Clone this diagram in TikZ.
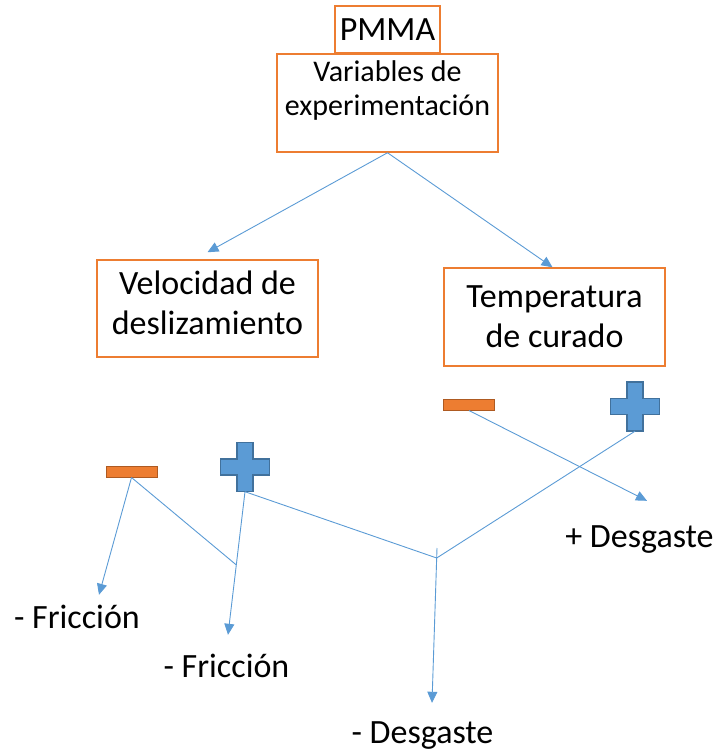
\documentclass[tikz,border=0pt]{standalone}
\usepackage{fontspec}
\setmainfont{Carlito}
\usetikzlibrary{positioning, arrows.meta, calc}
\definecolor{lineblue}{RGB}{91,155,213}
\definecolor{boxorange}{RGB}{237,125,49}
\definecolor{darkorange}{RGB}{174,90,33}
\definecolor{darkblue}{RGB}{65,113,156}

\begin{document}
\begin{tikzpicture}[x=1pt, y=-1pt,
  box/.style={draw=boxorange, line width=1.5pt, rectangle, align=center, minimum width=221pt, font=\fontsize{34}{40}\selectfont},
  lbl/.style={inner sep=0pt, text height=22pt, text depth=7pt, font=\fontsize{34}{40}\selectfont},
  link/.style={draw=lineblue, line width=0.9pt},
  arr/.style={link, -{Triangle[length=11pt, width=10pt]}},
  minus/.style={draw=darkorange, fill=boxorange, line width=1pt, minimum width=51pt, minimum height=11pt, inner sep=0pt},
  plussign/.style={minimum width=49pt, minimum height=49pt, inner sep=0pt},
  plusfill/.style={draw=darkblue, fill=lineblue, line width=1.5pt}]
\useasboundingbox (0,0) rectangle (719,752);

% boxes
\node[box, minimum width=105pt, minimum height=47pt] (pmma) at (387.5,29.5) {PMMA};
\node[box, minimum height=98pt] (vars) at (387.5,103) {};
\node[inner sep=0pt, align=center, font=\fontsize{30}{34}\selectfont, below=7pt of vars.north] (varstxt) {Variables de\\experimentación};
\node[box, minimum height=97pt, text depth=12pt] (vel) at (207.5,308.5) {Velocidad de\\deslizamiento};
\node[box, minimum height=98pt] (temp) at (554.5,317) {Temperatura\\de curado};

% signs
\node[minus] (m1) at (131.5,471.5) {};
\node[minus] (m2) at (469,404.5) {};
\node[plussign] (p1) at (245,467) {};
\node[plussign] (p2) at (635,406.5) {};
\foreach \p in {p1,p2}
  \draw[plusfill, shift={(\p.center)}] (-8,-24.5) -- (8,-24.5) -- (8,-8) -- (24.5,-8) -- (24.5,8) -- (8,8)
    -- (8,24.5) -- (-8,24.5) -- (-8,8) -- (-24.5,8) -- (-24.5,-8) -- (-8,-8) -- cycle;

% results
\node[lbl, anchor=base] (fric1) at (77,628) {- Fricción};
\node[lbl, anchor=base] (fric2) at (226.5,677) {- Fricción};
\node[lbl, anchor=base] (desgm) at (422.5,743) {- Desgaste};
\node[lbl, anchor=base] (desgp) at (639.5,547) {+ Desgaste};

\coordinate (jl) at (236.4,565);
\coordinate (jm) at (436.7,558);
\coordinate (tick) at (437,548);

\draw[arr] (vars.south) -- ([yshift=7pt]vel.north);
\draw[arr] (vars.south) -- ([xshift=-2pt]temp.north);
\draw[arr] (m1.south) -- ([xshift=22pt, yshift=11pt]fric1.north);
\draw[link] (m1.south) -- (jl);
\draw[arr] (p1.south) -- ([xshift=1.5pt, yshift=20pt]fric2.north);
\draw[link] (p1.south) -- (jm);
\draw[link] (p2.south) -- (jm);
\draw[arr] (tick) -- ([xshift=9.5pt, yshift=18pt]desgm.north);
\draw[arr] (m2.south) -- ([xshift=7.5pt, yshift=24pt]desgp.north);
\end{tikzpicture}
\end{document}
